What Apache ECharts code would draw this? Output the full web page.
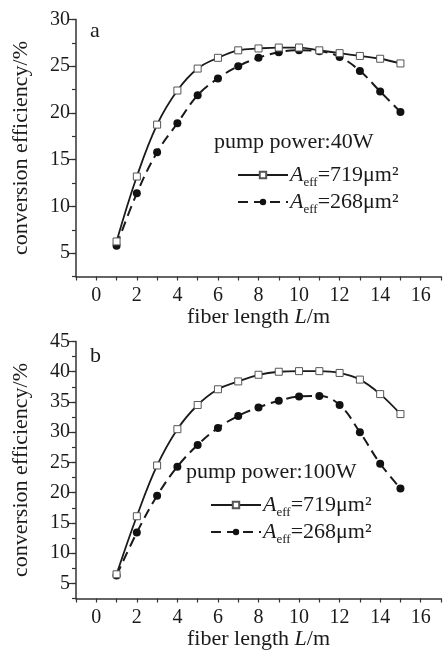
<!DOCTYPE html>
<html>
<head>
<meta charset="utf-8">
<script src="https://cdn.jsdelivr.net/npm/echarts@6/dist/echarts.min.js"></script>
<style>
html,body{margin:0;padding:0;background:#fff;}
#c{width:444px;height:654px;}
</style>
</head>
<body>
<div id="c"></div>
<script>
// Fiber length (m)
const lengths = [1,2,3,4,5,6,7,8,9,10,11,12,13,14,15];
// Panel a: pump power 40W
const a719 = [6.25,13.2,18.75,22.4,24.75,25.9,26.7,26.9,27.0,27.0,26.7,26.4,26.1,25.8,25.3];
const a268 = [5.8,11.4,15.8,18.9,21.9,23.7,25.0,25.9,26.5,26.7,26.6,26.0,24.5,22.3,20.1];
// Panel b: pump power 100W
const b719 = [6.5,16.1,24.5,30.5,34.5,37.1,38.4,39.5,40.0,40.1,40.1,39.8,38.7,36.3,33.0];
const b268 = [6.3,13.4,19.5,24.3,27.9,30.7,32.7,34.1,35.2,35.9,36.0,34.5,30.0,24.8,20.7];
const xTickLabels = [0,2,4,6,8,10,12,14,16];
const yTopLabels = [5,10,15,20,25,30];
const yBotLabels = [5,10,15,20,25,30,35,40,45];

const FONT = '"Liberation Serif","Times New Roman",serif';
const ink = '#1a1a1a';

function pairs(ys){ return lengths.map((x,i)=>[x, ys[i]]); }

function xAxis(gi){
  return {
    gridIndex: gi, type: 'value', min: -1, max: 17, interval: 1,
    name: '{n|fiber length }{i|L}{n|/m}', nameLocation: 'middle', nameGap: 24,
    nameTextStyle: { rich: {
      n: {fontFamily: FONT, fontSize: 22, color: ink},
      i: {fontFamily: FONT, fontSize: 22, color: ink, fontStyle: 'italic'}
    }},
    axisLine: {show: true, onZero: false, lineStyle: {color: '#333', width: 1.5}},
    axisTick: {show: true, length: 4, lineStyle: {color: '#333', width: 1.2}},
    axisLabel: {
      fontFamily: FONT, fontSize: 20, color: ink, margin: 9,
      showMinLabel: true, showMaxLabel: true,
      formatter: v => xTickLabels.indexOf(v) >= 0 ? String(v) : ''
    },
    splitLine: {show: false}
  };
}
function yAxis(gi, max, labels){
  return {
    gridIndex: gi, type: 'value', min: 2.5, max: max, interval: 2.5,
    name: 'conversion efficiency/%', nameLocation: 'middle', nameGap: 44, nameRotate: 90,
    nameTextStyle: {fontFamily: FONT, fontSize: 22, color: ink},
    axisLine: {show: true, onZero: false, lineStyle: {color: '#333', width: 1.5}},
    axisTick: {show: true, length: 4, lineStyle: {color: '#333', width: 1.2}},
    axisLabel: {
      fontFamily: FONT, fontSize: 20, color: ink, margin: 6,
      formatter: v => labels.indexOf(v) >= 0 ? String(v) : ''
    },
    splitLine: {show: false}
  };
}
// overlay axis carrying only the longer major ticks
function yMajor(gi, max, labels){
  return {
    gridIndex: gi, type: 'value', min: 2.5, max: max, interval: 2.5, position: 'left',
    axisLine: {show: false, onZero: false},
    axisTick: {show: true, length: 7, customValues: labels, lineStyle: {color: '#333', width: 1.2}},
    axisLabel: {show: false},
    splitLine: {show: false}
  };
}
function solidSeries(name, gi, ys){
  return {
    name: name, type: 'line', xAxisIndex: gi, yAxisIndex: gi, data: pairs(ys),
    smooth: 0.4, symbol: 'rect', symbolSize: 7,
    lineStyle: {color: ink, width: 1.8, type: 'solid'},
    itemStyle: {color: '#fff', borderColor: '#555', borderWidth: 1},
    emphasis: {disabled: true}, z: 3
  };
}
function dashSeries(name, gi, ys){
  return {
    name: name, type: 'line', xAxisIndex: gi, yAxisIndex: gi, data: pairs(ys),
    smooth: 0.4, symbol: 'circle', symbolSize: 8,
    lineStyle: {color: ink, width: 2, type: [10, 6]},
    itemStyle: {color: '#111', borderColor: '#111', borderWidth: 0},
    emphasis: {disabled: true}, z: 2
  };
}
const legendRich = {
  i: {fontFamily: FONT, fontSize: 22, fontStyle: 'italic', color: ink, lineHeight: 28, verticalAlign: 'middle'},
  s: {fontFamily: FONT, fontSize: 13, color: ink, lineHeight: 28, verticalAlign: 'bottom'},
  n: {fontFamily: FONT, fontSize: 22, color: ink, lineHeight: 28, verticalAlign: 'middle'}
};
const legendFmt = name => {
  const v = name.slice(1);
  return '{i|A}{s|eff}{n|=' + v + 'μm²}';
};
function legend(left, top, names){
  return {
    left: left, top: top, orient: 'vertical', itemWidth: 50, itemHeight: 8, itemGap: 2,
    padding: 0, selectedMode: false, data: names, formatter: legendFmt,
    textStyle: {rich: legendRich, padding: [0,0,0,-3]}
  };
}

const chart = echarts.init(document.getElementById('c'), null, {renderer: 'canvas'});
chart.setOption({
  animation: false,
  backgroundColor: '#fff',
  grid: [
    {left: 76, width: 384, top: 19.5, height: 257},
    {left: 76, width: 384, top: 341.5, height: 257}
  ],
  xAxis: [xAxis(0), xAxis(1)],
  yAxis: [yAxis(0, 30, yTopLabels), yAxis(1, 45, yBotLabels), yMajor(0, 30, yTopLabels), yMajor(1, 45, yBotLabels)],
  legend: [
    legend(237, 164, ['a719', 'a268']),
    legend(210, 494, ['b719', 'b268'])
  ],
  graphic: [
    {type: 'text', left: 90, top: 20, style: {text: 'a', font: '22px ' + FONT, fill: ink}},
    {type: 'text', left: 90, top: 345, style: {text: 'b', font: '22px ' + FONT, fill: ink}},
    {type: 'text', left: 214, top: 131, style: {text: 'pump power:40W', font: '22px ' + FONT, fill: ink}},
    {type: 'text', left: 186, top: 461, style: {text: 'pump power:100W', font: '22px ' + FONT, fill: ink}}
  ],
  series: [
    solidSeries('a719', 0, a719),
    dashSeries('a268', 0, a268),
    solidSeries('b719', 1, b719),
    dashSeries('b268', 1, b268)
  ]
});
</script>
</body>
</html>
